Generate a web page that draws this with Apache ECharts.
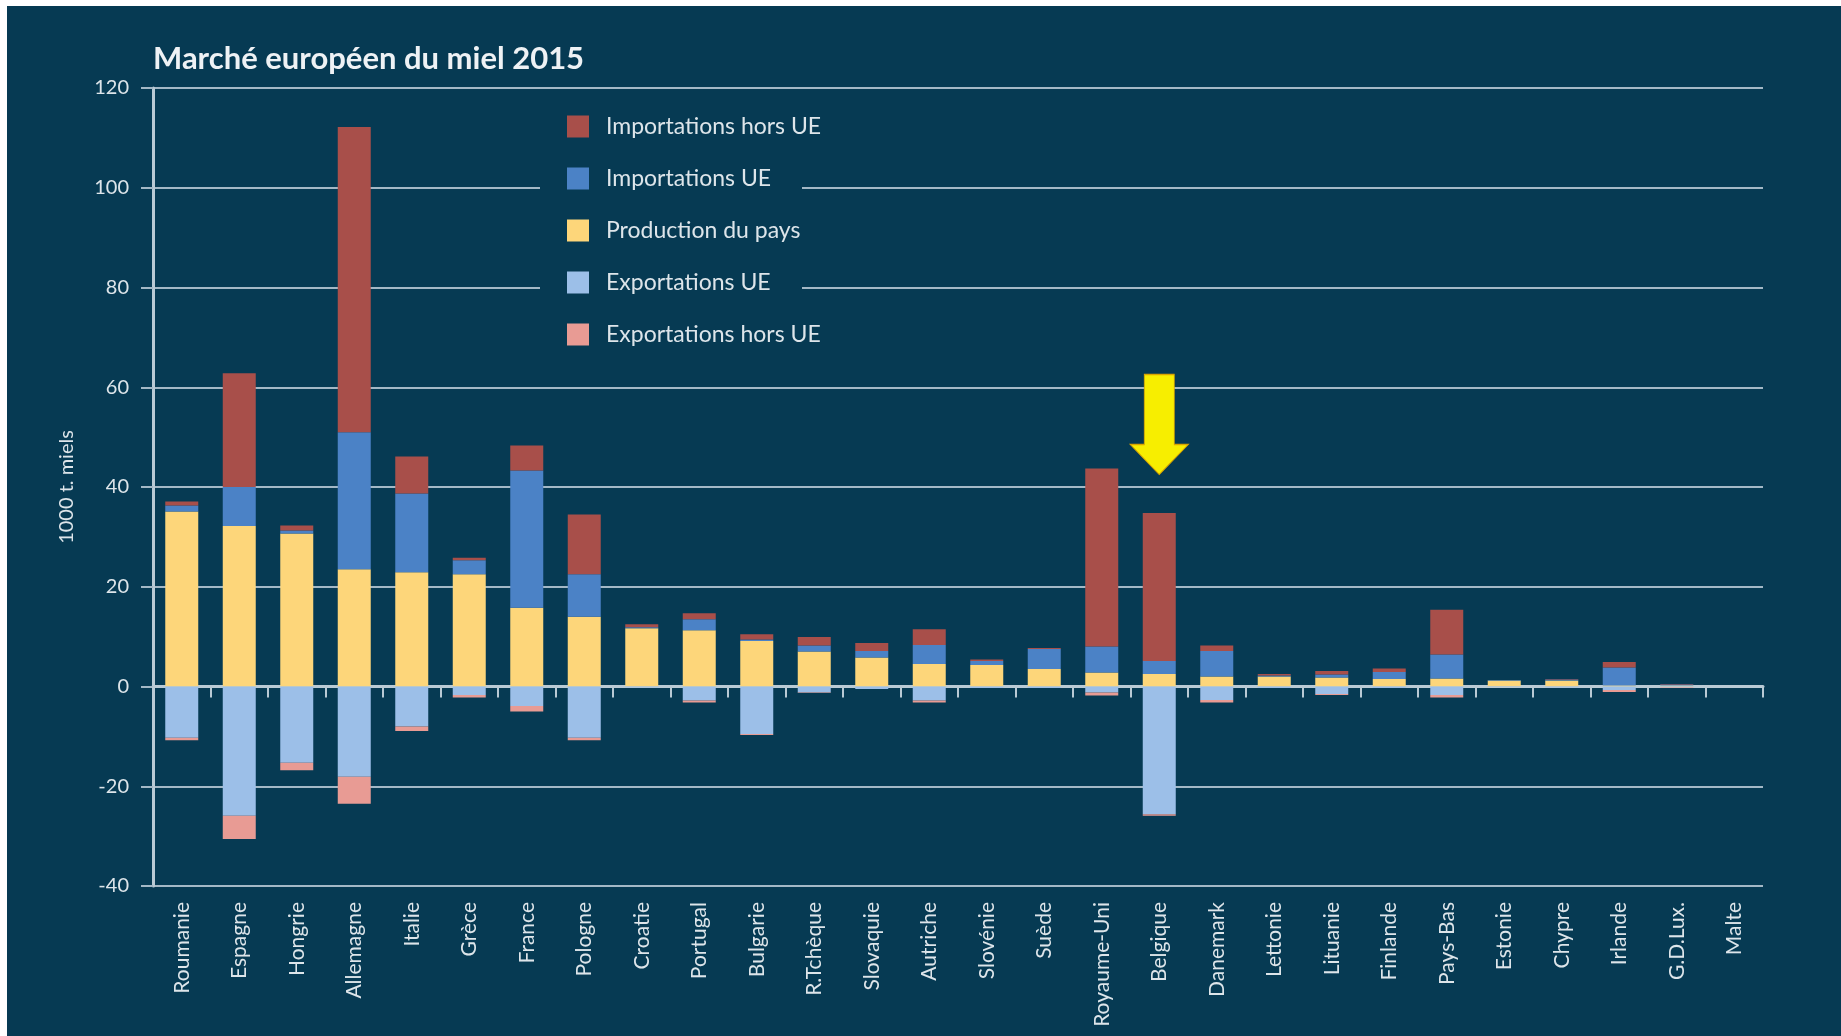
<!DOCTYPE html>
<html>
<head>
<meta charset="utf-8">
<title>Marché européen du miel 2015</title>
<script src="https://cdn.jsdelivr.net/npm/echarts@6/dist/echarts.min.js"></script>
<style>
    html, body { margin: 0; padding: 0; background: #ffffff; overflow: hidden; }
    #chart { position: absolute; left: 7px; top: 6px; width: 1834px; height: 1030px; }
</style>
</head>
<body>
<div id="chart"></div>
<script>
// Pays (ordre de l'original)
const categories = ['Roumanie', 'Espagne', 'Hongrie', 'Allemagne', 'Italie', 'Grèce', 'France', 'Pologne',
    'Croatie', 'Portugal', 'Bulgarie', 'R.Tchèque', 'Slovaquie', 'Autriche', 'Slovénie', 'Suède',
    'Royaume-Uni', 'Belgique', 'Danemark', 'Lettonie', 'Lituanie', 'Finlande', 'Pays-Bas', 'Estonie',
    'Chypre', 'Irlande', 'G.D.Lux.', 'Malte'];

// 1000 t. miels
const production   = [35.1, 32.2, 30.7, 23.5, 22.9, 22.5, 15.8, 14.0, 11.7, 11.3, 9.1, 7.0, 5.8, 4.5, 4.3, 3.5, 2.8, 2.5, 2.0, 2.0, 1.8, 1.5, 1.6, 1.2, 1.2, 0.2, 0.2, 0];
const importUE     = [1.2, 7.8, 0.6, 27.5, 15.8, 2.8, 27.5, 8.5, 0.2, 2.2, 0.3, 1.2, 1.3, 3.8, 0.8, 4.0, 5.2, 2.6, 5.1, 0.2, 0.6, 1.4, 4.8, 0.1, 0.2, 3.6, 0.2, 0];
const importHorsUE = [0.8, 22.8, 1.0, 61.2, 7.4, 0.5, 5.0, 12.0, 0.6, 1.2, 1.1, 1.7, 1.6, 3.2, 0.3, 0.2, 35.7, 29.7, 1.1, 0.3, 0.7, 0.7, 9.0, 0, 0.1, 1.1, 0.1, 0];
const exportUE     = [-10.3, -25.9, -15.3, -18.1, -8.0, -1.7, -3.9, -10.3, -0.2, -2.8, -9.5, -1.2, -0.5, -2.8, -0.3, -0.3, -1.2, -25.6, -2.7, -0.3, -1.5, -0.3, -1.7, -0.1, -0.2, -0.7, -0.1, 0];
const exportHorsUE = [-0.5, -4.7, -1.5, -5.4, -0.9, -0.5, -1.1, -0.5, 0, -0.4, -0.2, -0.1, 0, -0.4, 0, 0, -0.6, -0.3, -0.5, 0, -0.2, 0, -0.5, 0, 0, -0.4, -0.1, 0];

const yTicks = { min: -40, max: 120, interval: 20 };
const highlighted = ['Belgique', 42.5];   // flèche jaune

const bg = '#063a53';
const textColor = '#dde5ea';
const fontFamily = 'Lato, "Open Sans", sans-serif';

const chart = echarts.init(document.getElementById('chart'));

const barSeries = (name, data, color) => ({
    name: name,
    type: 'bar',
    stack: 'total',
    barWidth: 33,
    data: data,
    itemStyle: { color: color },
    emphasis: { disabled: true }
});

const arrowSeries = barSeries('Importations hors UE', importHorsUE, '#a84f4a');
arrowSeries.markPoint = {
    symbol: 'path://M14,0 L44,0 L44,70 L58,70 L29,100 L0,70 L14,70 Z',
    symbolSize: [58, 100],
    symbolOffset: [0, '-50%'],
    label: { show: false },
    itemStyle: { color: '#f7ee00', borderColor: '#d9a400', borderWidth: 1 },
    data: [{ coord: highlighted }]
};

chart.setOption({
    backgroundColor: bg,
    animation: false,
    textStyle: { fontFamily: fontFamily },
    title: {
        text: 'Marché européen du miel 2015',
        left: 141,
        top: 32,
        textStyle: { color: '#eef2f5', fontSize: 31, fontWeight: 'bold', fontFamily: fontFamily }
    },
    graphic: [{
        type: 'rect',
        z: 1,
        shape: { x: 533, y: 94, width: 262, height: 266 },
        style: { fill: bg }
    }],
    legend: {
        orient: 'vertical',
        left: 560,
        top: 109,
        itemWidth: 22,
        itemHeight: 22,
        itemGap: 29,
        icon: 'rect',
        padding: 0,
        data: ['Importations hors UE', 'Importations UE', 'Production du pays', 'Exportations UE', 'Exportations hors UE'],
        textStyle: { color: textColor, fontSize: 23, padding: [0, 0, 0, 12], fontFamily: fontFamily }
    },
    grid: { left: 146, top: 82, width: 1610, bottom: 150 },
    xAxis: {
        type: 'category',
        data: categories,
        boundaryGap: true,
        axisLine: { lineStyle: { color: '#b9cad5', width: 3 } },
        axisTick: { show: true, length: 11, interval: 0, lineStyle: { color: '#b9cad5', width: 2 } },
        axisLabel: { interval: 0, rotate: 90, margin: 16, color: textColor, fontSize: 21, fontFamily: fontFamily }
    },
    yAxis: {
        type: 'value',
        min: yTicks.min,
        max: yTicks.max,
        interval: yTicks.interval,
        name: '1000 t. miels',
        nameLocation: 'middle',
        nameGap: 76,
        nameRotate: 90,
        nameTextStyle: { color: textColor, fontSize: 20, fontFamily: fontFamily },
        axisLine: { show: true, lineStyle: { color: '#b9cad5', width: 3 } },
        axisTick: { show: true, length: 12, lineStyle: { color: '#a3b8c6', width: 2 } },
        axisLabel: { margin: 24, color: textColor, fontSize: 20, fontFamily: fontFamily },
        splitLine: { lineStyle: { color: '#a3b8c6', width: 2 } }
    },
    series: [
        barSeries('Production du pays', production, '#fdd67a'),
        barSeries('Importations UE', importUE, '#4b82c6'),
        arrowSeries,
        barSeries('Exportations UE', exportUE, '#9cbfe8'),
        barSeries('Exportations hors UE', exportHorsUE, '#e89b94')
    ]
});

window.addEventListener('resize', () => chart.resize());
</script>
</body>
</html>
